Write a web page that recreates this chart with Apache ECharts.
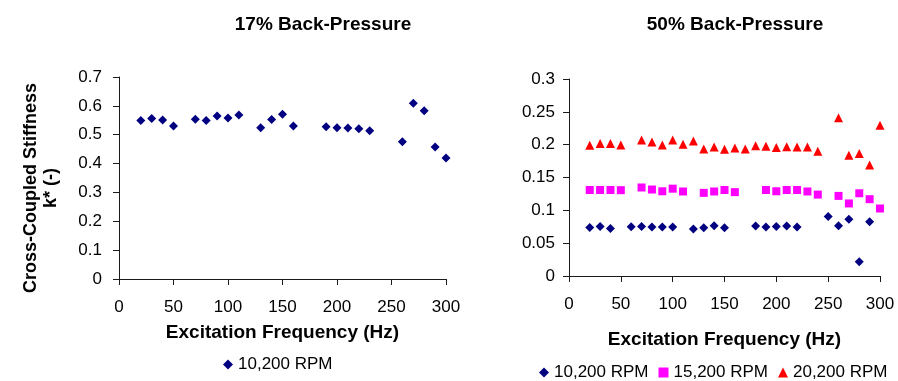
<!DOCTYPE html>
<html>
<head>
<meta charset="utf-8">
<script src="https://cdn.jsdelivr.net/npm/echarts@6/dist/echarts.min.js"></script>
<style>
  html, body { margin: 0; padding: 0; background: #fff; }
  #chart { width: 898px; height: 381px; }
</style>
</head>
<body>
<div id="chart"></div>
<script>
// 17% back-pressure, 10,200 RPM
const freq17 = [20, 30, 40, 50, 70, 80, 90, 100, 110, 130, 140, 150, 160, 190, 200, 210, 220, 230, 260, 270, 280, 290, 300];
const k17 = [0.549, 0.556, 0.551, 0.530, 0.554, 0.549, 0.565, 0.558, 0.568, 0.524, 0.553, 0.571, 0.530, 0.528, 0.524, 0.523, 0.521, 0.514, 0.476, 0.609, 0.583, 0.457, 0.419];

// 50% back-pressure, three shaft speeds
const freq50a = [20, 30, 40, 60, 70, 80, 90, 100, 120, 130, 140, 150, 180, 190, 200, 210, 220, 250, 260, 270, 280, 290];
const k50a = [0.074, 0.0755, 0.0725, 0.075, 0.0755, 0.0745, 0.0745, 0.0745, 0.0714, 0.0734, 0.0765, 0.0734, 0.076, 0.0745, 0.0755, 0.076, 0.0745, 0.0907, 0.0765, 0.0866, 0.0218, 0.0826];

const freq50b = [20, 30, 40, 50, 70, 80, 90, 100, 110, 130, 140, 150, 160, 190, 200, 210, 220, 230, 240, 260, 270, 280, 290, 300];
const k50b = [0.131, 0.131, 0.131, 0.1307, 0.1348, 0.1317, 0.129, 0.133, 0.1287, 0.1266, 0.1287, 0.131, 0.1277, 0.131, 0.129, 0.131, 0.131, 0.1287, 0.124, 0.122, 0.1105, 0.126, 0.117, 0.1028];

const freq50c = [20, 30, 40, 50, 70, 80, 90, 100, 110, 120, 130, 140, 150, 160, 170, 180, 190, 200, 210, 220, 230, 240, 260, 270, 280, 290, 300];
const k50c = [0.199, 0.2017, 0.2017, 0.1996, 0.207, 0.204, 0.1996, 0.207, 0.2006, 0.2056, 0.1935, 0.1965, 0.193, 0.195, 0.1935, 0.1985, 0.1976, 0.1955, 0.197, 0.1965, 0.1965, 0.190, 0.241, 0.184, 0.1865, 0.169, 0.2295];

const seriesNames = ['10,200 RPM', '15,200 RPM', '20,200 RPM'];
const titles = ['17% Back-Pressure', '50% Back-Pressure'];
const xName = 'Excitation Frequency (Hz)';
const yName = 'Cross-Coupled Stiffness\nk* (-)';

const pairs = (xs, ys) => xs.map((x, i) => [x, ys[i]]);

const FONT = 'Liberation Sans, Arial, sans-serif';
const AXIS_COLOR = '#1a1a1a';

function xAxisCfg(gridIndex, margin, nameGap) {
  return {
    gridIndex, type: 'value', min: 0, max: 300, interval: 50,
    name: xName, nameLocation: 'middle', nameGap,
    nameTextStyle: { fontFamily: FONT, fontSize: 19, fontWeight: 'bold', color: '#000' },
    axisLine: { show: true, lineStyle: { color: AXIS_COLOR, width: 1 } },
    axisTick: { show: true, length: 6, lineStyle: { color: AXIS_COLOR } },
    axisLabel: { fontFamily: FONT, fontSize: 17, color: '#000', margin },
    splitLine: { show: false }
  };
}

function yAxisCfg(gridIndex, max, interval, margin) {
  return {
    gridIndex, type: 'value', min: 0, max, interval,
    axisLine: { show: true, lineStyle: { color: AXIS_COLOR, width: 1 } },
    axisTick: { show: true, length: 6, lineStyle: { color: AXIS_COLOR } },
    axisLabel: { fontFamily: FONT, fontSize: 17, color: '#000', margin },
    splitLine: { show: false }
  };
}

const chart = echarts.init(document.getElementById('chart'), null, { renderer: 'canvas' });

chart.setOption({
  backgroundColor: '#fff',
  animation: false,
  title: [
    { text: titles[0], left: 318, top: 10, textAlign: 'center',
      textStyle: { fontFamily: FONT, fontSize: 19, fontWeight: 'bold', color: '#000' } },
    { text: titles[1], left: 730, top: 10, textAlign: 'center',
      textStyle: { fontFamily: FONT, fontSize: 19, fontWeight: 'bold', color: '#000' } }
  ],
  grid: [
    { left: 119, top: 77, width: 327, height: 202 },
    { left: 569, top: 79, width: 311, height: 197 }
  ],
  xAxis: [xAxisCfg(0, 20, 44), xAxisCfg(1, 20, 54)],
  yAxis: [yAxisCfg(0, 0.7, 0.1, 17), yAxisCfg(1, 0.3, 0.05, 14)],
  legend: [
    { data: [{ name: 'L ' + seriesNames[0], icon: 'diamond' }],
      left: 223, top: 356, padding: 0, itemWidth: 10, itemHeight: 10, itemGap: 12,
      formatter: n => n.slice(2),
      textStyle: { fontFamily: FONT, fontSize: 17, color: '#000' } },
    { data: [
        { name: seriesNames[0], icon: 'diamond' },
        { name: seriesNames[1], icon: 'rect' },
        { name: seriesNames[2], icon: 'triangle' }
      ],
      left: 539, top: 364, width: 358, padding: 0, itemWidth: 10, itemHeight: 10, itemGap: 10,
      textStyle: { fontFamily: FONT, fontSize: 17, color: '#000' } }
  ],
  graphic: [
    { type: 'text', x: 41, y: 188, rotation: Math.PI / 2,
      style: { text: yName, fontFamily: FONT, fontSize: 18, fontWeight: 'bold',
               fill: '#000', align: 'center', verticalAlign: 'middle', lineHeight: 20 } }
  ],
  series: [
    { name: 'L ' + seriesNames[0], type: 'scatter', xAxisIndex: 0, yAxisIndex: 0,
      symbol: 'diamond', symbolSize: 9, itemStyle: { color: '#000080', opacity: 1 },
      data: pairs(freq17, k17) },
    { name: seriesNames[0], type: 'scatter', xAxisIndex: 1, yAxisIndex: 1,
      symbol: 'diamond', symbolSize: 9, itemStyle: { color: '#000080', opacity: 1 },
      data: pairs(freq50a, k50a) },
    { name: seriesNames[1], type: 'scatter', xAxisIndex: 1, yAxisIndex: 1,
      symbol: 'rect', symbolSize: 8, itemStyle: { color: '#FF00FF', opacity: 1 },
      data: pairs(freq50b, k50b) },
    { name: seriesNames[2], type: 'scatter', xAxisIndex: 1, yAxisIndex: 1,
      symbol: 'triangle', symbolSize: 9, itemStyle: { color: '#FF0000', opacity: 1 },
      data: pairs(freq50c, k50c) }
  ]
});
</script>
</body>
</html>
